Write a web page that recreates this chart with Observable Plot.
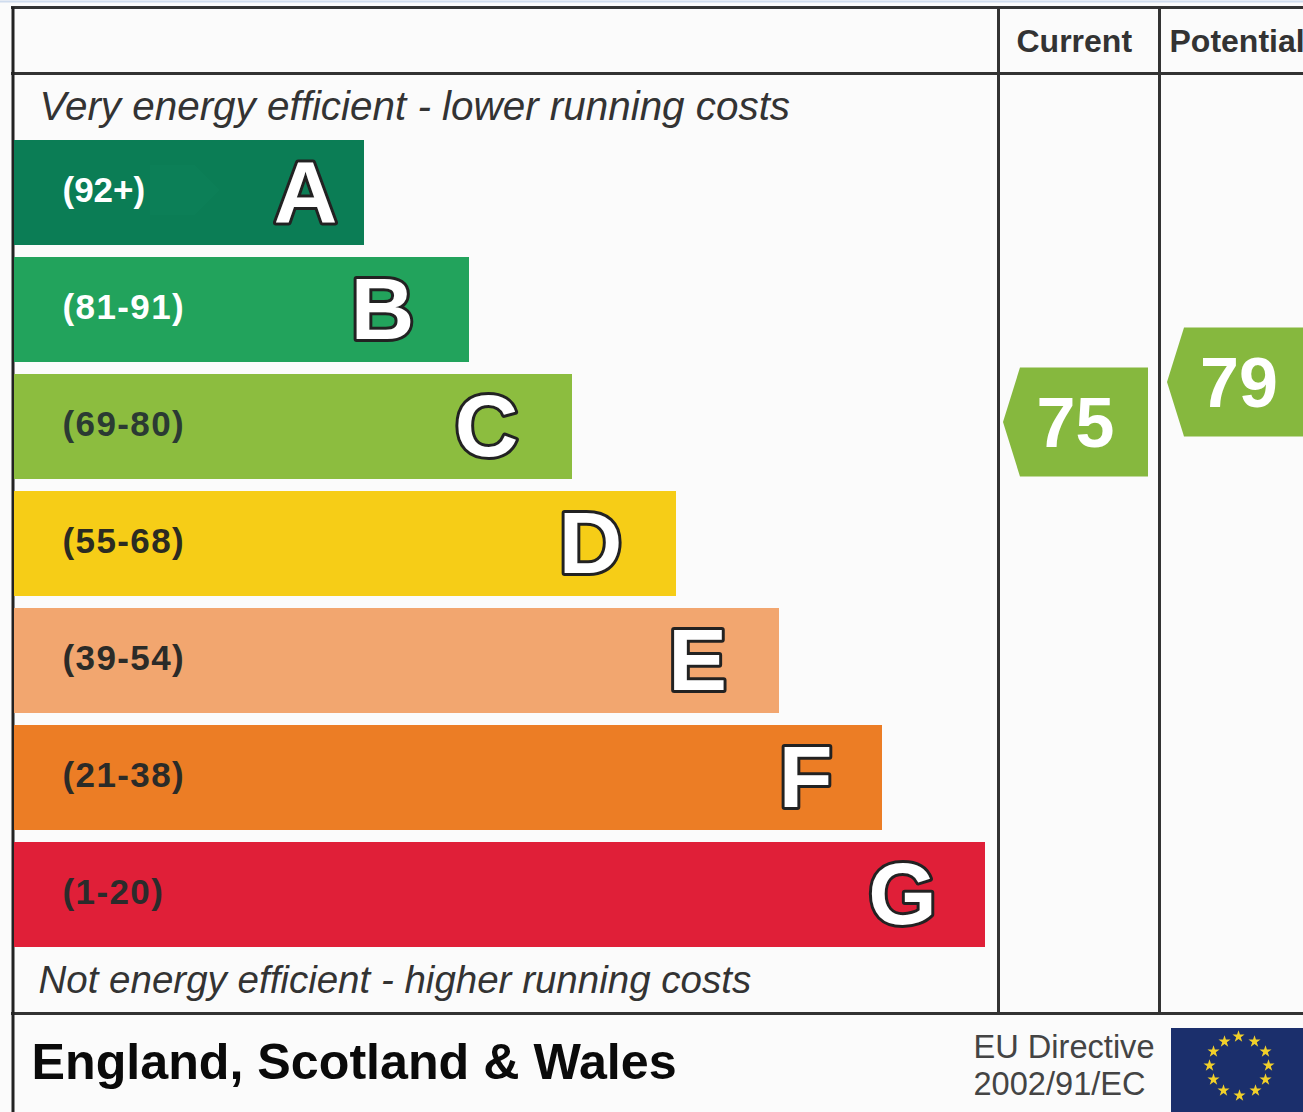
<!DOCTYPE html>
<html>
<head>
<meta charset="utf-8">
<script src="https://cdn.jsdelivr.net/npm/d3@7"></script>
<script src="https://cdn.jsdelivr.net/npm/@observablehq/plot@0.6"></script>
<style>
html,body{margin:0;padding:0;background:#fbfbfb;overflow:hidden}
svg{display:block}
.spaced text{letter-spacing:1.4px}
</style>
</head>
<body>
<div id="chart"></div>
<script>
// ---- chart values ----
const grades = ["A","B","C","D","E","F","G"];
const ranges = ["(92+)","(81-91)","(69-80)","(55-68)","(39-54)","(21-38)","(1-20)"];
const barLengths = [350,455,558,662,765,868,971];
const letterInsets = [59,87,86,86,82,77,83];
const barColors = ["#0b7d55","#22a35c","#8cbd3f","#f6cd17","#f2a66f","#ec7d25","#e01f38"];
const rangeColors = ["#ffffff","#ffffff","#2b3a33","#2b2b22","#2b2b28","#2b2b28","#2b2b2b"];
const scoreLabels = ["Current","Potential"];
const scores = [75,79];
const starX = [1238,1254,1265,1268,1265,1255,1239,1223,1213,1209,1213,1224];
const starY = [1036,1041,1051,1065,1079,1090,1095,1090,1079,1065,1051,1041];

// ---- layout ----
const W = 1303, H = 1112;
const INK = "#333";
const FONT = "'Liberation Sans', Arial, sans-serif";
const STEP = 117, GAP = 12, BANDWIDTH = STEP - GAP, BAND = BANDWIDTH / 2;
const TOP = 128;
const lit = (k) => ({value: k, scale: null});
const bars = grades.map((g,i)=>({grade:g, range:ranges[i], length:barLengths[i], inset:letterInsets[i], color:barColors[i], rangeColor:rangeColors[i]}));
const tagY = d3.scaleLinear().domain([79,75]).range([381,421]);
const tagX = {Current:[1003,1020,1148], Potential:[1167,1184,1312]};
const tagPts = scoreLabels.flatMap((c,i)=>{
  const yc = tagY(scores[i]), [a,b,e] = tagX[c];
  return [{c,x:a,y1:yc+1,y2:yc+1},{c,x:b,y1:yc-53.5,y2:yc+55.5},{c,x:e,y1:yc-53.5,y2:yc+55.5}];
});
const tagLabels = scoreLabels.map((c,i)=>({t:String(scores[i]),x:c==="Current"?1075:1238.5,y:tagY(scores[i])+3}));
const stars = starX.map((x,i)=>({x,y:starY[i]}));
const faintArrow = [{x:150,y1:165,y2:215},{x:195,y1:165,y2:215},{x:220,y1:190,y2:190}];

const labels = [
  {t:"Very energy efficient - lower running costs",x:39,y:107,size:40.4,style:"italic",weight:"normal",fill:"#333"},
  {t:"Not energy efficient - higher running costs",x:38,y:980,size:38.5,style:"italic",weight:"normal",fill:"#333"},
  {t:"England, Scotland & Wales",x:31,y:1062,size:50.2,style:"normal",weight:"bold",fill:"#0a0a0a"},
  {t:"EU Directive",x:973,y:1047,size:32.6,style:"normal",weight:"normal",fill:"#444"},
  {t:"2002/91/EC",x:973,y:1084,size:32.6,style:"normal",weight:"normal",fill:"#444"},
  {t:"Current",x:1016,y:41,size:32,style:"normal",weight:"bold",fill:"#333"},
  {t:"Potential",x:1169,y:41,size:32,style:"normal",weight:"bold",fill:"#333"}
];
const textMarks = labels.map(l=>Plot.text([l],{x:lit("x"),y:lit("y"),dy:-BAND,text:"t",textAnchor:"start",lineAnchor:"middle",
  fontSize:l.size,fontStyle:l.style,fontWeight:l.weight,fill:l.fill}));

const plot = Plot.plot({
  width:W,height:H,margin:0,
  style:{background:"#fbfbfb",fontFamily:FONT,overflow:"hidden"},
  x:{domain:[-14,W-14],range:[0,W],axis:null},
  y:{domain:grades,range:[TOP,TOP+STEP*7+GAP],padding:GAP/STEP,round:false,axis:null},
  marks:[
    Plot.ruleY([1],{y:lit(d=>d),dy:-BAND,stroke:"#cfdcee",strokeWidth:2}),
    Plot.ruleY([7,73,1013],{y:lit(d=>d),x1:lit(()=>11),x2:lit(()=>W),dy:-BAND,stroke:INK,strokeWidth:3}),
    Plot.ruleX([12.5],{x:lit(d=>d),y1:lit(()=>7),y2:lit(()=>H),stroke:"#222",strokeWidth:3}),
    Plot.ruleX([998,1159],{x:lit(d=>d),y1:lit(()=>7),y2:lit(()=>1013-BANDWIDTH),stroke:INK,strokeWidth:3}),
    Plot.barX(bars,{x:"length",y:"grade",fill:"color"}),
    Plot.area(faintArrow,{x1:lit("x"),y1:lit("y1"),y2:lit("y2"),dy:-BAND,fill:"#0c7f57"}),
    Plot.text(bars.slice(0,1),{x:lit(()=>62),y:"grade",text:"range",fill:"rangeColor",textAnchor:"start",dy:-2,fontSize:35,fontWeight:"bold"}),
    Plot.text(bars.slice(1),{x:lit(()=>62),y:"grade",text:"range",fill:"rangeColor",textAnchor:"start",dy:-2,fontSize:35,fontWeight:"bold",className:"spaced"}),
    Plot.text(bars,{x:d=>d.length-d.inset,y:"grade",text:"grade",dy:1,fill:"#fff",stroke:"#222",strokeWidth:6,fontSize:88,fontWeight:"bold"}),
    Plot.area(tagPts,{x1:lit("x"),y1:lit("y1"),y2:lit("y2"),z:"c",dy:-BAND,fill:"#86b83e"}),
    Plot.text(tagLabels,{x:lit("x"),y:lit("y"),dy:-BAND,text:"t",fill:"#fff",fontSize:70,fontWeight:"bold"}),
    ...textMarks,
    Plot.rect([0],{x1:lit(()=>1171),x2:lit(()=>W),y1:lit(()=>1028),y2:lit(()=>1102),fill:"#1b2f6c"}),
    Plot.dot(stars,{x:lit("x"),y:lit("y"),dy:-BAND,symbol:"star",r:3.8,fill:"#f2d02a"})
  ]
});
document.getElementById("chart").appendChild(plot);
</script>
</body>
</html>
